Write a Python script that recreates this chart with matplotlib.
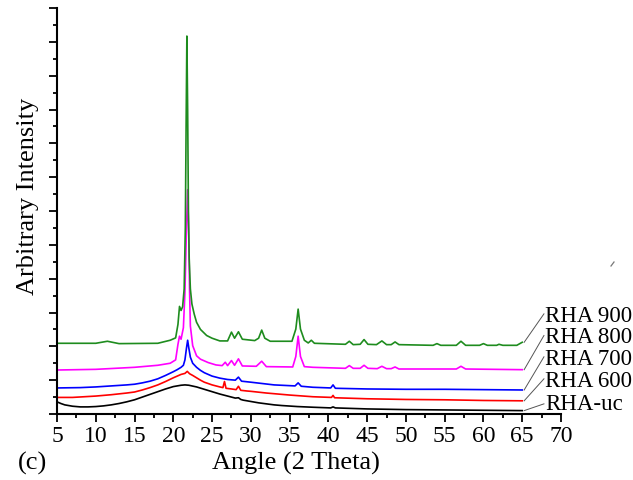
import matplotlib
matplotlib.use("Agg")
import matplotlib.pyplot as plt
from matplotlib.ticker import MultipleLocator
from matplotlib.lines import Line2D

# ---------------- data ----------------
angle_uc = [5, 5.5, 6, 7, 8, 9, 10, 11, 12, 13, 14, 15, 16, 17, 18, 19, 20, 21, 21.5, 22, 23, 24, 25, 26, 27, 28,
            28.4, 28.7, 29, 30, 31, 32, 33, 34, 36, 38, 40.3, 40.6, 40.9, 45, 50, 55, 60, 65]
rha_uc   = [0.36, 0.31, 0.27, 0.23, 0.21, 0.21, 0.22, 0.24, 0.27, 0.31, 0.36, 0.42, 0.50, 0.58, 0.66, 0.74, 0.81, 0.85, 0.86, 0.85,
            0.80, 0.73, 0.66, 0.59, 0.53, 0.47, 0.48, 0.43, 0.41, 0.37, 0.33, 0.30, 0.27, 0.25, 0.22, 0.20, 0.18, 0.21, 0.18,
            0.15, 0.13, 0.12, 0.11, 0.10]

angle_600 = [5, 7, 10, 12, 14, 15, 16, 17, 18, 19, 20, 21, 21.5, 21.8, 22.1, 22.5, 23, 23.5, 24, 25, 26, 26.4, 26.6, 26.8,
             27.5, 28.1, 28.4, 28.7, 29.5, 30, 32, 35, 38, 40.4, 40.6, 40.8, 45, 50, 55, 60, 65]
rha_600   = [0.49, 0.49, 0.53, 0.57, 0.62, 0.65, 0.71, 0.78, 0.86, 0.96, 1.07, 1.17, 1.20, 1.26, 1.19, 1.14, 1.07, 1.00, 0.94,
             0.86, 0.80, 0.78, 0.96, 0.76, 0.74, 0.72, 0.82, 0.70, 0.68, 0.67, 0.62, 0.56, 0.51, 0.49, 0.55, 0.48, 0.45, 0.43,
             0.42, 0.40, 0.39]

angle_700 = [5, 8, 10, 12, 14, 15, 16, 17, 18, 19, 20, 20.5, 21, 21.3, 21.5, 21.7, 21.85, 22.0, 22.2, 22.5, 23, 23.5, 24,
             25, 26, 27, 28.0, 28.4, 28.8, 30, 31.5, 33, 35.7, 36.1, 36.5, 38, 40.3, 40.6, 40.9, 45, 50, 55, 60, 65]
rha_700   = [0.77, 0.78, 0.80, 0.83, 0.86, 0.88, 0.92, 0.97, 1.04, 1.14, 1.25, 1.31, 1.38, 1.44, 1.60, 1.95, 2.18, 1.95, 1.68,
             1.50, 1.38, 1.29, 1.22, 1.12, 1.06, 1.02, 1.00, 1.09, 0.97, 0.94, 0.90, 0.86, 0.83, 0.92, 0.82, 0.79, 0.77, 0.86,
             0.76, 0.74, 0.73, 0.73, 0.72, 0.71]

angle_800 = [5, 10, 15, 18, 19.6, 20.3, 20.6, 20.8, 21.0, 21.3, 21.5, 21.7, 21.85, 22.0, 22.1, 22.2, 22.5, 23.0, 23.5, 24.5,
             25.5, 26.3, 26.7, 27.0, 27.5, 27.9, 28.4, 28.9, 30.7, 31.4, 32.0, 35.4, 35.8, 36.1, 36.4, 36.9, 38, 42.2, 42.7,
             43.2, 44.1, 44.6, 45.1, 46.3, 46.9, 47.5, 48.1, 48.6, 49.1, 56.5, 57.1, 57.7, 65]
rha_800   = [1.30, 1.32, 1.38, 1.44, 1.50, 1.60, 2.06, 2.30, 2.21, 2.55, 3.60, 5.50, 6.63, 5.20, 3.60, 2.60, 2.02, 1.72, 1.62,
             1.52, 1.45, 1.43, 1.53, 1.43, 1.58, 1.44, 1.63, 1.42, 1.41, 1.56, 1.40, 1.39, 1.70, 2.30, 1.70, 1.40, 1.38, 1.35,
             1.43, 1.35, 1.35, 1.44, 1.35, 1.34, 1.41, 1.34, 1.34, 1.39, 1.33, 1.33, 1.41, 1.33, 1.31]

angle_900 = [5, 10, 11.5, 13, 18, 19.6, 20.3, 20.6, 20.8, 21.0, 21.2, 21.4, 21.55, 21.65, 21.75, 21.85, 21.95, 22.05, 22.2,
             22.4, 22.7, 23.0, 23.5, 24.3, 25, 26, 27.0, 27.5, 27.9, 28.4, 28.9, 30.5, 31.0, 31.4, 31.8, 32.5, 35.3, 35.8,
             36.1, 36.4, 36.9, 37.4, 37.8, 38.2, 42.2, 42.7, 43.2, 44.1, 44.6, 45.1, 46.2, 46.9, 47.5, 48.1, 48.6, 49.1, 53.5,
             54.0, 54.5, 56.5, 57.1, 57.7, 59.5, 60.0, 60.5, 61.7, 62.0, 62.5, 64.3, 65]
rha_900   = [2.09, 2.09, 2.15, 2.08, 2.09, 2.18, 2.25, 2.65, 3.18, 3.06, 3.17, 3.70, 5.50, 8.50, 11.17, 9.00, 6.00, 4.60, 3.70,
             3.25, 2.95, 2.71, 2.50, 2.32, 2.24, 2.16, 2.16, 2.42, 2.24, 2.43, 2.21, 2.17, 2.24, 2.48, 2.24, 2.15, 2.15, 2.51,
             3.10, 2.51, 2.18, 2.10, 2.18, 2.09, 2.06, 2.15, 2.05, 2.06, 2.20, 2.06, 2.05, 2.16, 2.05, 2.05, 2.13, 2.05, 2.03,
             2.08, 2.03, 2.03, 2.15, 2.03, 2.03, 2.08, 2.03, 2.03, 2.06, 2.03, 2.03, 2.12]

labels = ["RHA-uc", "RHA 600", "RHA 700", "RHA 800", "RHA 900"]
colors = ["#000000", "#ff0000", "#0000ff", "#ff00ff", "#1e8c1e"]
xticks = [5, 10, 15, 20, 25, 30, 35, 40, 45, 50, 55, 60, 65, 70]

series = [(angle_uc, rha_uc), (angle_600, rha_600), (angle_700, rha_700),
          (angle_800, rha_800), (angle_900, rha_900)]

# label layout (positions of the callouts)
label_y = [0.30, 0.99, 1.63, 2.28, 2.91]
leader_end_y = [0.30, 1.04, 1.69, 2.32, 2.96]

# ---------------- figure ----------------
plt.rcParams['font.family'] = ['Liberation Serif', 'DejaVu Serif']
fig = plt.figure(figsize=(6.33, 4.81), dpi=100)
ax = fig.add_axes([57/633, 1-415/481, (561-57)/633, (415-9)/481])

for (xs, ys), c in zip(series, colors):
    ax.plot(xs, ys, color=c, lw=1.2, solid_joinstyle='round')

for (xs, ys), lab, ly, le in zip(series, labels, label_y, leader_end_y):
    ax.plot([xs[-1] + 0.25, 67.8], [ys[-1], le], color='#555555', lw=0.7, clip_on=False)
    ax.text(67.95, ly, lab, fontsize=16.5, va='center', ha='left', clip_on=False)

ax.set_xlim(5, 70)
ax.set_ylim(0, 12)
ax.set_xticks(xticks)
ax.xaxis.set_minor_locator(MultipleLocator(2.5))
ax.yaxis.set_major_locator(MultipleLocator(1))
ax.yaxis.set_minor_locator(MultipleLocator(0.5))
ax.set_yticklabels([])
ax.tick_params(axis='x', which='major', direction='out', length=6, width=1.3, labelsize=17, pad=2)
ax.tick_params(axis='x', which='minor', direction='out', length=3, width=1.3)
ax.tick_params(axis='y', which='major', direction='out', length=5.5, width=1.3)
ax.tick_params(axis='y', which='minor', direction='out', length=3, width=1.3)

for s in ['top', 'right']:
    ax.spines[s].set_visible(False)
for s in ['left', 'bottom']:
    ax.spines[s].set_linewidth(1.5)

fig.text(296/633, 1-463/481, "Angle (2 Theta)", fontsize=19, ha='center', va='center')
fig.text(28/633, 1-196/481, "Arbitrary Intensity", fontsize=19, ha='center', va='center', rotation=90)
fig.text(18/633, 1-463/481, "(c)", fontsize=19, ha='left', va='center')

# small stray stroke seen in the reference
fig.add_artist(Line2D([611/633, 614/633], [1-267/481, 1-263/481], color='#777777', lw=0.9))

fig.savefig("out.png", dpi=100)
